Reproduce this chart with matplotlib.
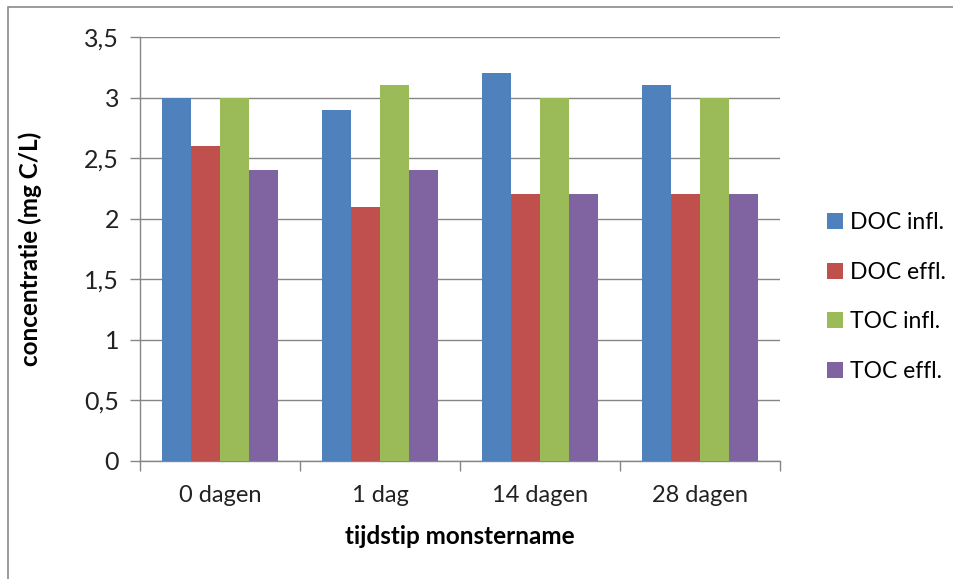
import matplotlib.pyplot as plt
import numpy as np
from matplotlib.patches import Rectangle

categories = ['0 dagen', '1 dag', '14 dagen', '28 dagen']
series = ['DOC infl.', 'DOC effl.', 'TOC infl.', 'TOC effl.']
doc_infl = [3.0, 2.9, 3.2, 3.1]
doc_effl = [2.6, 2.1, 2.2, 2.2]
toc_infl = [3.0, 3.1, 3.0, 3.0]
toc_effl = [2.4, 2.4, 2.2, 2.2]
colors = ['#4F81BD', '#C0504D', '#9BBB59', '#8064A2']

plt.rcParams['font.family'] = ['Lato', 'DejaVu Sans']
grey = '#868686'

fig = plt.figure(figsize=(9.54, 5.79), dpi=100)
ax = fig.add_axes([140 / 954, 1 - 461 / 579, 640 / 954, 424 / 579])

# outer chart frame (only top and left edges are visible)
fig.patches.append(Rectangle((8 / 954, -0.01), 1.0, 1 - 7 / 579 + 0.01,
                             transform=fig.transFigure, fill=False,
                             edgecolor='#8a8a8a', linewidth=1.2))

x = np.arange(len(categories))
w = 1 / 5.5
for i, vals in enumerate([doc_infl, doc_effl, toc_infl, toc_effl]):
    ax.bar(x + (i - 1.5) * w, vals, width=w, color=colors[i], label=series[i], zorder=3)

ax.set_xlim(-0.5, 3.5)
ax.set_ylim(0, 3.5)
yt = np.arange(0, 3.51, 0.5)
ax.set_yticks(yt)
ax.set_yticklabels([('%g' % v).replace('.', ',') for v in yt])
ax.yaxis.grid(True, color=grey, linewidth=1, zorder=0)

ax.set_xticks(x)
ax.set_xticklabels(categories)
ax.set_xticks(np.arange(-0.5, 3.6, 1), minor=True)
ax.tick_params(axis='x', which='major', length=0, pad=17, labelsize=17, colors='#222222')
ax.tick_params(axis='x', which='minor', length=7, color=grey, width=1)
ax.tick_params(axis='y', length=7, color=grey, width=1, labelsize=18,
               labelcolor='#222222', pad=8)

for s in ['top', 'right']:
    ax.spines[s].set_visible(False)
for s in ['left', 'bottom']:
    ax.spines[s].set_color(grey)
    ax.spines[s].set_linewidth(1)

ax.set_ylabel('concentratie (mg C/L)', fontsize=17.5, fontweight='bold')
ax.set_xlabel('tijdstip monstername', fontsize=17.5, fontweight='bold')
ax.yaxis.set_label_coords(-0.172, 0.5)
ax.xaxis.set_label_coords(0.5, -0.179)
ax.xaxis.label.set_va('center')
ax.yaxis.label.set_va('center')

fig.legend(loc='center left', bbox_to_anchor=(806 / 954, 1 - 297 / 579),
           frameon=False, fontsize=16.5, labelspacing=1.25, handlelength=0.7,
           handleheight=0.7, handletextpad=0.3)

fig.savefig('out.png', dpi=100)
